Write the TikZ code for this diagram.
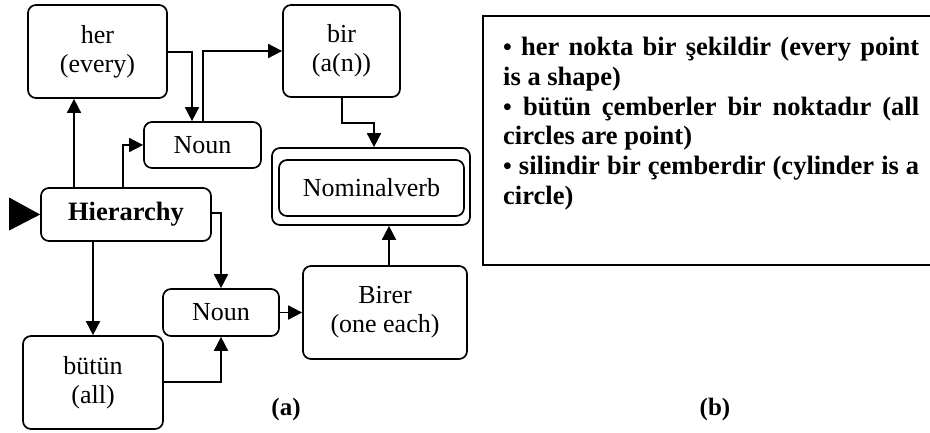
\documentclass[tikz,border=0pt]{standalone}
\usepackage{fontspec}
\setmainfont{Liberation Serif}
\usetikzlibrary{arrows.meta,calc}
\newcommand{\bul}{{\fontsize{25}{25}\selectfont •}}
\begin{document}
\begin{tikzpicture}[x=1pt,y=-1pt,
  box/.style={draw,line width=1.7pt,rounded corners=8pt,align=center,
    font=\fontsize{26}{29}\selectfont,inner sep=0pt},
  arr/.style={line width=1.7pt,-{Triangle[length=14pt,width=14pt]}},
  lab/.style={font=\bfseries\fontsize{25}{28}\selectfont,inner sep=0pt}]
\clip (0,0) rectangle (930,432);
% nodes
\node[box,minimum width=139pt,minimum height=93pt] (her) at (97.5,51.5) {her\\(every)};
\node[box,minimum width=117pt,minimum height=92pt] (bir) at (341.5,51) {bir\\(a(n))};
\node[box,minimum width=117pt,minimum height=46pt] (noun1) at (202.5,145) {Noun};
\node[box,minimum width=198pt,minimum height=77pt] (nvo) at (371,186.5) {};
\node[box,minimum width=185pt,minimum height=56pt] (nv) at (371.5,188) {Nominalverb};
\node[box,minimum width=170pt,minimum height=53pt,font=\bfseries\fontsize{26.5}{29}\selectfont] (hier) at (126,214.5) {Hierarchy};
\node[box,minimum width=116pt,minimum height=47pt] (noun2) at (221,312.5) {Noun};
\node[box,minimum width=164pt,minimum height=93pt] (birer) at (385,312.5) {Birer\\(one each)};
\node[box,minimum width=140pt,minimum height=93pt] (butun) at (93,382.5) {bütün\\(all)};
% entry arrow
\fill ($(hier.west)+(-31,-17)$) -- (hier.west) -- ($(hier.west)+(-31,16)$) -- cycle;
% connectors
\draw[arr] (hier.north -| 74,0) -- (her.south -| 74,0);
\draw[arr] (hier.north -| 123,0) |- (noun1.west);
\draw[arr] (her.east |- 0,52) -| (noun1.north -| 192,0);
\draw[arr] (noun1.north -| 203,0) |- (bir.west |- 0,51);
\draw[arr] (bir.south -| 342,0) -- (342,123) -| (nvo.north -| 374,0);
\draw[arr] (hier.east |- 0,213) -| (noun2.north);
\draw[arr] (hier.south -| 93,0) -- (butun.north -| 93,0);
\draw[arr] (butun.east |- 0,382) -| (noun2.south);
\draw[arr] (noun2.east) -- (birer.west);
\draw[arr] (birer.north -| 389,0) -- (nvo.south -| 389,0);
% labels
\node[lab] (la) at (286,409) {(a)};
\node[lab] (lb) at (715,409) {(b)};
% right panel
\draw[line width=1.8pt] (483,16) rectangle (940,265);
\node[anchor=north west,inner sep=0pt] (txt) at (503,37) {\parbox{416pt}{\bfseries\fontsize{26.5}{29.8}\selectfont
\hyphenpenalty=10000 \exhyphenpenalty=10000
\spaceskip=0.25em plus 0.6em minus 0.12em
\bul{} her nokta bir şekildir (every point\linebreak is a shape)\par
\bul{} bütün çemberler bir noktadır (all\linebreak circles are point)\par
\bul{} silindir bir çemberdir (cylinder is a\linebreak circle)\par}};
\end{tikzpicture}
\end{document}
